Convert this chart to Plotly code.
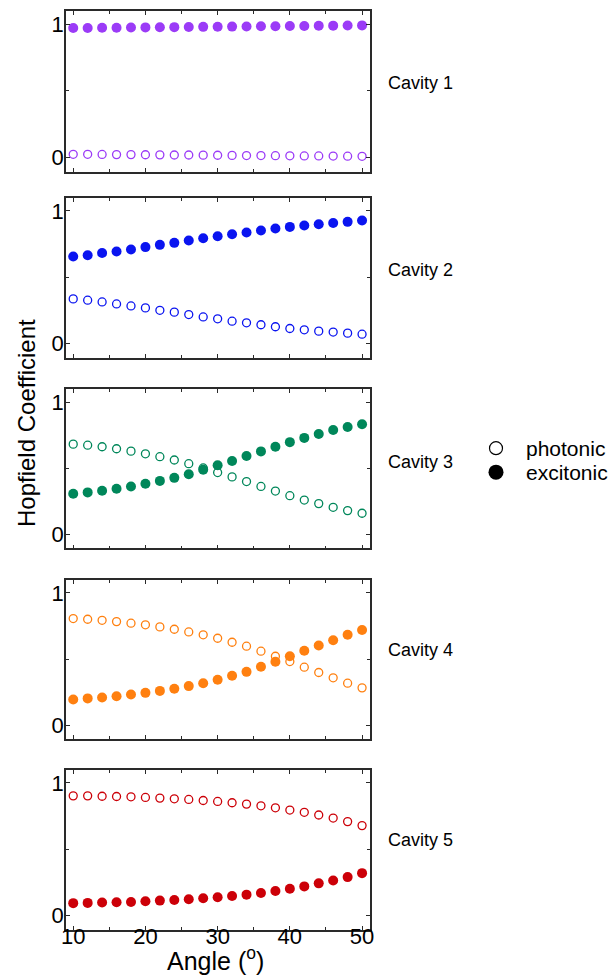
import plotly.graph_objects as go

angles = [10, 12, 14, 16, 18, 20, 22, 24, 26, 28, 30, 32, 34, 36, 38, 40, 42, 44, 46, 48, 50]

cav1_exc = [0.970, 0.970, 0.972, 0.973, 0.974, 0.975, 0.976, 0.977, 0.978, 0.979, 0.980,
            0.981, 0.982, 0.983, 0.984, 0.985, 0.986, 0.987, 0.988, 0.989, 0.990]
cav1_pho = [0.025, 0.025, 0.024, 0.023, 0.023, 0.022, 0.021, 0.020, 0.020, 0.019, 0.018,
            0.017, 0.016, 0.016, 0.015, 0.014, 0.013, 0.013, 0.012, 0.011, 0.010]

cav2_exc = [0.657, 0.667, 0.683, 0.695, 0.710, 0.728, 0.745, 0.760, 0.778, 0.795, 0.810,
            0.825, 0.838, 0.853, 0.868, 0.880, 0.890, 0.900, 0.910, 0.918, 0.928]
cav2_pho = [0.338, 0.328, 0.315, 0.300, 0.285, 0.270, 0.252, 0.238, 0.220, 0.202, 0.188,
            0.170, 0.158, 0.143, 0.128, 0.115, 0.105, 0.095, 0.088, 0.080, 0.072]

cav3_exc = [0.308, 0.318, 0.330, 0.345, 0.363, 0.383, 0.405, 0.428, 0.455, 0.490, 0.523,
            0.555, 0.593, 0.628, 0.663, 0.698, 0.730, 0.760, 0.790, 0.813, 0.833]
cav3_pho = [0.683, 0.675, 0.663, 0.648, 0.630, 0.610, 0.588, 0.563, 0.535, 0.503, 0.468,
            0.435, 0.400, 0.363, 0.328, 0.293, 0.260, 0.233, 0.205, 0.180, 0.160]

cav4_exc = [0.194, 0.202, 0.209, 0.219, 0.232, 0.244, 0.259, 0.275, 0.295, 0.317, 0.343,
            0.373, 0.403, 0.441, 0.479, 0.521, 0.562, 0.602, 0.642, 0.683, 0.720]
cav4_pho = [0.806, 0.801, 0.793, 0.783, 0.771, 0.759, 0.743, 0.725, 0.705, 0.683, 0.657,
            0.627, 0.597, 0.559, 0.521, 0.481, 0.438, 0.398, 0.358, 0.317, 0.282]

cav5_exc = [0.095, 0.097, 0.100, 0.102, 0.104, 0.109, 0.114, 0.119, 0.124, 0.132, 0.139,
            0.149, 0.159, 0.172, 0.187, 0.204, 0.221, 0.244, 0.266, 0.291, 0.321]
cav5_pho = [0.903, 0.903, 0.900, 0.898, 0.896, 0.891, 0.886, 0.881, 0.876, 0.868, 0.861,
            0.851, 0.841, 0.828, 0.813, 0.796, 0.779, 0.759, 0.736, 0.709, 0.679]

cavity_names = ["Cavity 1", "Cavity 2", "Cavity 3", "Cavity 4", "Cavity 5"]
colors = ["#9B3BF7", "#0A14F0", "#00875A", "#FF8010", "#CC0008"]
exc_series = [cav1_exc, cav2_exc, cav3_exc, cav4_exc, cav5_exc]
pho_series = [cav1_pho, cav2_pho, cav3_pho, cav4_pho, cav5_pho]

FONT = "Liberation Sans, Arial, sans-serif"

# pixel layout (figure 615 x 980)
ML, MR, MT, MB = 66, 245, 10, 50
PW = 615 - ML - MR
PH = 980 - MT - MB
panel_px = [(10.7, 171.7), (197.7, 357.7), (389, 548.3), (579.7, 739), (769.7, 929.7)]
label_px = [83, 270, 462, 650, 840]

def py(p):
    return (980 - MB - p) / PH

def px(p):
    return (p - ML) / PW

fig = go.Figure()
layout = dict(
    width=615, height=980,
    margin=dict(l=ML, r=MR, t=MT, b=MB, autoexpand=False),
    paper_bgcolor="white", plot_bgcolor="white",
    font=dict(family=FONT, color="black", size=18),
    showlegend=True,
    legend=dict(x=px(466), y=py(428), xanchor="left", yanchor="top",
                font=dict(size=21, family=FONT, color="black"),
                itemwidth=50, bgcolor="rgba(0,0,0,0)"),
    legend2=dict(x=px(466), y=py(452), xanchor="left", yanchor="top",
                 font=dict(size=21, family=FONT, color="black"),
                 itemwidth=50, bgcolor="rgba(0,0,0,0)"),
)

for i in range(5):
    n = i + 1
    xa = "x" if n == 1 else f"x{n}"
    ya = "y" if n == 1 else f"y{n}"
    fig.add_trace(go.Scatter(
        x=angles, y=pho_series[i], mode="markers", xaxis=xa, yaxis=ya, showlegend=False,
        marker=dict(symbol="circle-open", size=8, color=colors[i], line=dict(width=1.3, color=colors[i]))))
    fig.add_trace(go.Scatter(
        x=angles, y=exc_series[i], mode="markers", xaxis=xa, yaxis=ya, showlegend=False,
        marker=dict(symbol="circle", size=10, color=colors[i])))
    top, bot = panel_px[i]
    common = dict(showline=True, linecolor="#2a2a2a", linewidth=1.6, mirror="ticks",
                  ticks="inside", ticklen=4, tickwidth=1.2, tickcolor="#2a2a2a",
                  showgrid=False, zeroline=False, automargin=False)
    layout[f"xaxis{n}"] = dict(
        domain=[0, 1], anchor=ya, range=[9, 51.1], tickmode="array",
        tickvals=[10, 20, 30, 40, 50], showticklabels=(n == 5),
        tickfont=dict(size=22, family=FONT, color="black"), ticklabelstandoff=-14,
        minor=dict(tickvals=[15, 25, 35, 45], ticks="inside", ticklen=3, tickcolor="#2a2a2a", tickwidth=1.2),
        **common)
    layout[f"yaxis{n}"] = dict(
        domain=[py(bot), py(top)], anchor=xa, range=[-0.105, 1.1], tickmode="array",
        tickvals=[0, 1], ticktext=["0", "1"],
        tickfont=dict(size=22, family=FONT, color="black"), ticklabelstandoff=-4,
        minor=dict(tickvals=[0.5], ticks="inside", ticklen=3, tickcolor="#2a2a2a", tickwidth=1.2),
        **common)

# legend entries
fig.add_trace(go.Scatter(x=[None], y=[None], mode="markers", name="photonic", legend="legend",
                         marker=dict(symbol="circle-open", size=13, color="black", line=dict(width=1.2))))
fig.add_trace(go.Scatter(x=[None], y=[None], mode="markers", name="excitonic", legend="legend2",
                         marker=dict(symbol="circle", size=15, color="black")))

annotations = []
for i in range(5):
    annotations.append(dict(text=cavity_names[i], x=px(386), y=py(label_px[i]),
                            xref="paper", yref="paper", xanchor="left", yanchor="middle",
                            showarrow=False, font=dict(size=18, family=FONT, color="black")))
annotations.append(dict(text="Hopfield Coefficient", x=px(26), y=py(423),
                        xref="paper", yref="paper", xanchor="center", yanchor="middle",
                        textangle=-90, showarrow=False, font=dict(size=24, family=FONT, color="black")))
annotations.append(dict(text="Angle (<sup>o</sup>)", x=px(215), y=py(959),
                        xref="paper", yref="paper", xanchor="center", yanchor="middle",
                        showarrow=False, font=dict(size=25, family=FONT, color="black")))
layout["annotations"] = annotations

fig.update_layout(**layout)
fig.write_html("out.html")
